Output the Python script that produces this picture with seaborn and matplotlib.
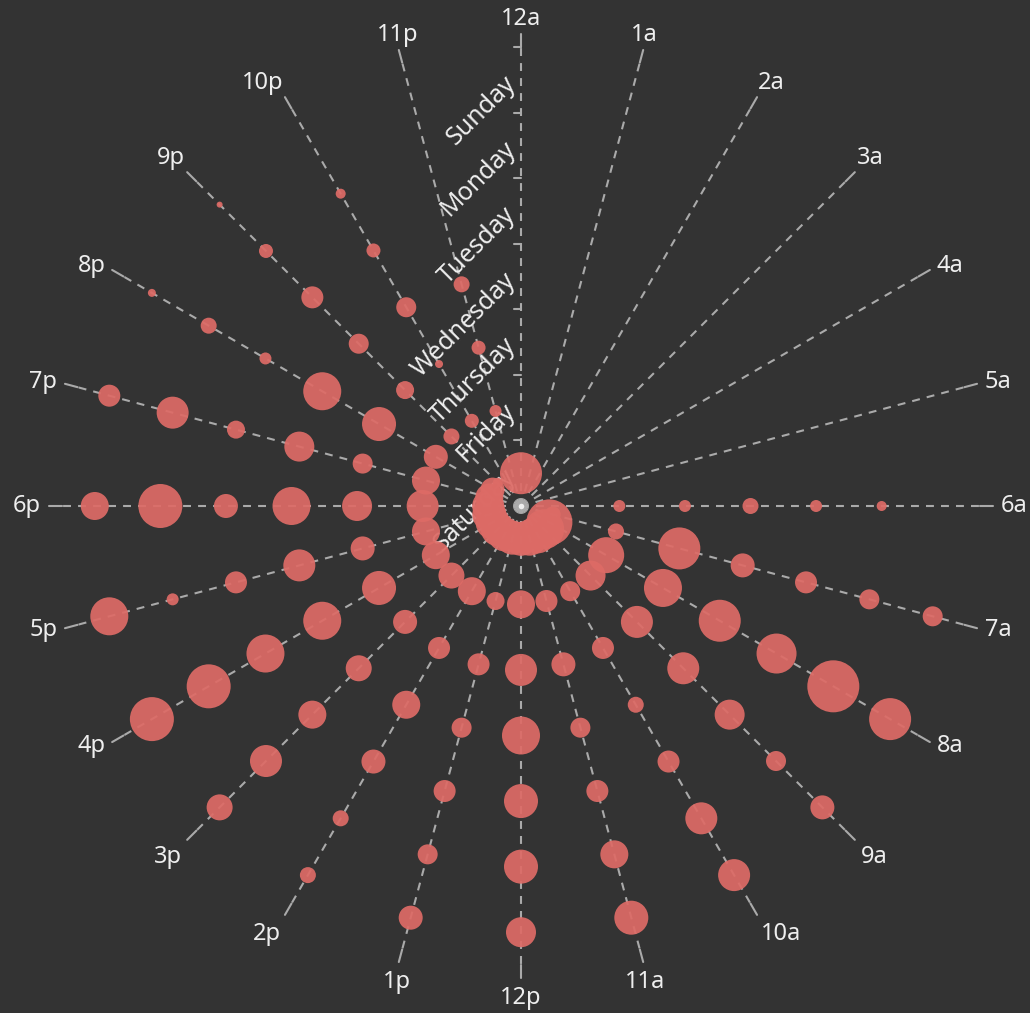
import numpy as np
import pandas as pd
import matplotlib
matplotlib.use('Agg')
import matplotlib.pyplot as plt
import seaborn as sns
from matplotlib.transforms import offset_copy

# 坐标轴类别
hours = ['12a', '1a', '2a', '3a', '4a', '5a', '6a', '7a', '8a', '9a', '10a', '11a',
         '12p', '1p', '2p', '3p', '4p', '5p', '6p', '7p', '8p', '9p', '10p', '11p']
days = ['Saturday', 'Friday', 'Thursday', 'Wednesday', 'Tuesday', 'Monday', 'Sunday']

# 每天 24 小时的数值
saturday = [21, 0, 0, 0, 0, 0, 0, 8, 23, 20, 19, 18, 17, 17, 17, 17, 17, 17, 16, 14, 12, 5, 0, 0]
friday = [0, 0, 0, 0, 0, 0, 6, 8, 18, 15, 10, 11, 14, 9, 14, 13, 14, 14, 16, 14, 12, 8, 7, 6]
thursday = [0, 0, 0, 0, 0, 0, 6, 21, 19, 16, 11, 12, 16, 11, 11, 12, 17, 12, 15, 10, 17, 9, 4, 7]
wednesday = [0, 0, 0, 0, 0, 0, 8, 12, 21, 16, 8, 10, 19, 10, 14, 13, 19, 16, 19, 15, 19, 10, 10, 8]
tuesday = [0, 0, 0, 0, 0, 0, 6, 11, 20, 15, 11, 11, 17, 11, 12, 14, 19, 11, 12, 9, 6, 11, 7, 0]
monday = [0, 0, 0, 0, 0, 0, 5, 10, 26, 10, 16, 14, 17, 10, 8, 16, 22, 6, 22, 16, 8, 7, 5, 0]
sunday = [0, 0, 0, 0, 0, 0, 0, 10, 21, 12, 16, 17, 15, 12, 8, 13, 22, 19, 14, 11, 4, 3, 0, 0]

week = [saturday, friday, thursday, wednesday, tuesday, monday, sunday]

rows = []
for d, vals in enumerate(week):
    for h, v in enumerate(vals):
        if v > 0:
            rows.append({'day': d, 'hour': h, 'value': v})
df = pd.DataFrame(rows)
df['theta'] = df['hour'] * 2 * np.pi / len(hours)
df['r'] = df['day'] + 0.5

bg = '#333333'
line_c = '#aaaaaa'
text_c = '#eeeeee'

sns.set_style('dark', rc={'axes.facecolor': bg, 'figure.facecolor': bg})
plt.rcParams['font.family'] = ['Noto Sans', 'DejaVu Sans']

fig = plt.figure(figsize=(10.30, 10.13), dpi=100, facecolor=bg)
ax = fig.add_axes([62 / 1030, 48 / 1013, 918 / 1030, 918 / 1013], projection='polar')
ax.set_facecolor(bg)
ax.set_theta_zero_location('N')
ax.set_theta_direction(-1)
ax.set_ylim(0, 7)
ax.grid(False)
ax.spines['polar'].set_visible(False)

# 角度轴虚线、刻度和标签（标签按方向对齐，类似 echarts）
for h in range(len(hours)):
    th = h * 2 * np.pi / len(hours)
    ax.plot([th, th], [0, 7], color=line_c, lw=1.5, ls=(0, (3.8, 3.4)), zorder=1)
    ax.plot([th, th], [7, 7.2], color=line_c, lw=1.5, zorder=1, clip_on=False)
    sx, cy = np.sin(th), np.cos(th)
    ha = 'center' if abs(sx) < 0.3 else ('left' if sx > 0 else 'right')
    va = 'center' if abs(cy) < 0.7 else ('bottom' if cy > 0 else 'top')
    r_lab = 7.24 if va == 'bottom' else 7.32
    ax.text(th, r_lab, hours[h], ha=ha, va=va, fontsize=17,
            color=text_c, clip_on=False)

# 半径轴刻度
for k in range(1, 8):
    off = 7 / (k * 65.57)
    ax.plot([0, -off], [k, k / np.cos(off)], color=line_c, lw=1.5, zorder=1, clip_on=False)
ax.plot([0], [0], marker='o', ms=4, mew=0, color=text_c, zorder=1)

# 半径轴标签（旋转 45 度）
trans = offset_copy(ax.transData, fig=fig, x=-9, y=0, units='dots')
for d, name in enumerate(days):
    ax.text(0, d + 0.5, name, transform=trans, rotation=45, rotation_mode='anchor',
            ha='right', va='center', fontsize=18, color=text_c, zorder=2)

# 气泡：直径（像素）= 2 * value
sizes = {v: (2 * v * 0.72) ** 2 for v in df['value'].unique()}
sns.scatterplot(data=df, x='theta', y='r', size='value', sizes=sizes,
                color='#dd6b66', alpha=0.93, linewidth=0, legend=False,
                ax=ax, zorder=3)

ax.set_xticks([])
ax.set_yticks([])
ax.set_xlabel('')
ax.set_ylabel('')
ax.set_ylim(0, 7)

fig.savefig('out.png', dpi=100, facecolor=bg)
